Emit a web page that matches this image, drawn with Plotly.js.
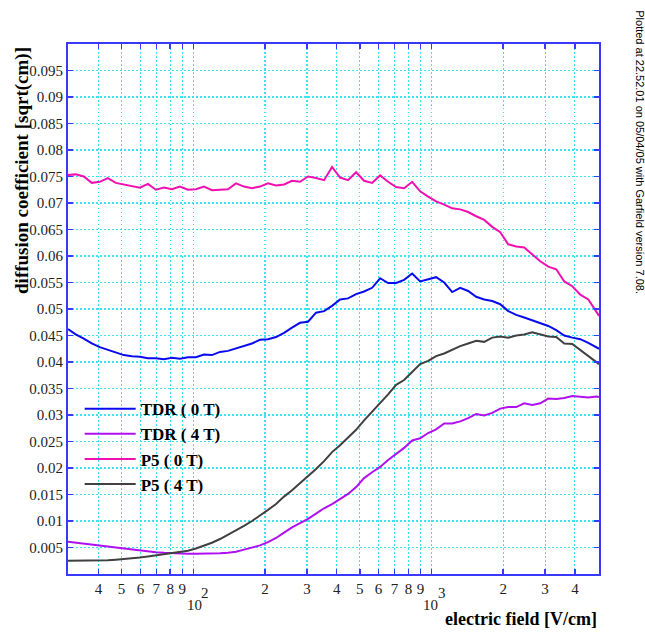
<!DOCTYPE html>
<html>
<head>
<meta charset="utf-8">
<script src="https://cdn.plot.ly/plotly-3.0.1.min.js"></script>
<style>html,body{margin:0;padding:0;background:#fff;}#chart{width:645px;height:632px;}</style>
</head>
<body>
<div id="chart"></div>
<script>
// electric field [V/cm]
var fieldVals = [29.8, 32.1, 34.7, 37.5, 40.5, 43.8, 47.3, 51.1, 55.3, 59.7, 64.5, 69.7, 75.3, 81.4, 87.9, 95.0,
  102.6, 110.9, 119.8, 129.5, 139.9, 151.1, 163.3, 176.4, 190.6, 206.0, 222.6, 240.5, 259.8, 280.7, 303.3, 327.7,
  354.1, 382.6, 413.4, 446.7, 482.6, 521.4, 563.4, 608.7, 657.7, 710.6, 767.8, 829.6, 896.4, 968.5, 1046, 1131,
  1222, 1320, 1426, 1541, 1665, 1799, 1944, 2100, 2269, 2452, 2649, 2862, 3093, 3341, 3610, 3901, 4215, 4554, 4920, 5050];

var tdr0T = [0.0462, 0.0452, 0.0444, 0.0435, 0.0428, 0.0423, 0.0417, 0.0413, 0.0411, 0.0410, 0.0407, 0.0407, 0.0405, 0.0408, 0.0406, 0.0409,
  0.0409, 0.0414, 0.0413, 0.0419, 0.0421, 0.0426, 0.0430, 0.0435, 0.0442, 0.0443, 0.0447, 0.0455, 0.0465, 0.0474, 0.0476, 0.0493,
  0.0496, 0.0506, 0.0518, 0.0520, 0.0528, 0.0533, 0.0540, 0.0558, 0.0549, 0.0549, 0.0555, 0.0567, 0.0552, 0.0556, 0.0560, 0.0550,
  0.0532, 0.0540, 0.0534, 0.0523, 0.0518, 0.0515, 0.0509, 0.0496, 0.0489, 0.0484, 0.0479, 0.0473, 0.0468, 0.0460, 0.0450, 0.0446, 0.0443, 0.0436, 0.0428, 0.0425];

var tdr4T = [0.0061, 0.0059, 0.0057, 0.0055, 0.0053, 0.0052, 0.0050, 0.0048, 0.0046, 0.0044, 0.0043, 0.0041, 0.0040, 0.0039, 0.0038, 0.0038,
  0.0038, 0.0038, 0.0038, 0.0039, 0.0040, 0.0042, 0.0046, 0.0050, 0.0054, 0.0060, 0.0068, 0.0078, 0.0088, 0.0096, 0.0104, 0.0114,
  0.0124, 0.0132, 0.0142, 0.0151, 0.0164, 0.0181, 0.0192, 0.0202, 0.0215, 0.0226, 0.0238, 0.0252, 0.0256, 0.0266, 0.0273, 0.0284,
  0.0284, 0.0288, 0.0294, 0.0302, 0.0299, 0.0304, 0.0312, 0.0315, 0.0315, 0.0322, 0.0319, 0.0322, 0.0331, 0.0330, 0.0332, 0.0336, 0.0335, 0.0333, 0.0335, 0.0334];

var p50T = [0.0753, 0.0754, 0.0750, 0.0738, 0.0740, 0.0747, 0.0738, 0.0735, 0.0731, 0.0729, 0.0736, 0.0725, 0.0729, 0.0726, 0.0731, 0.0725,
  0.0726, 0.0731, 0.0724, 0.0725, 0.0726, 0.0737, 0.0731, 0.0728, 0.0731, 0.0737, 0.0733, 0.0735, 0.0742, 0.0740, 0.0750, 0.0747,
  0.0743, 0.0768, 0.0748, 0.0743, 0.0758, 0.0742, 0.0738, 0.0752, 0.0740, 0.0730, 0.0728, 0.0740, 0.0722, 0.0712, 0.0703, 0.0697,
  0.0690, 0.0688, 0.0683, 0.0675, 0.0668, 0.0655, 0.0645, 0.0622, 0.0618, 0.0616, 0.0603, 0.0590, 0.0580, 0.0575, 0.0552, 0.0543, 0.0527, 0.0518, 0.0495, 0.0487];

var p54T = [0.0025, 0.0025, 0.0025, 0.0025, 0.0026, 0.0026, 0.0027, 0.0028, 0.0029, 0.0031, 0.0033, 0.0035, 0.0037, 0.0039, 0.0041, 0.0044,
  0.0048, 0.0053, 0.0059, 0.0066, 0.0074, 0.0083, 0.0091, 0.0100, 0.0110, 0.0121, 0.0132, 0.0146, 0.0158, 0.0171, 0.0184, 0.0198,
  0.0213, 0.0230, 0.0243, 0.0257, 0.0272, 0.0290, 0.0306, 0.0322, 0.0339, 0.0357, 0.0366, 0.0381, 0.0396, 0.0402, 0.0411, 0.0416,
  0.0423, 0.0430, 0.0435, 0.0440, 0.0438, 0.0446, 0.0448, 0.0446, 0.0450, 0.0452, 0.0456, 0.0452, 0.0448, 0.0447, 0.0435, 0.0434, 0.0423, 0.0412, 0.0401, 0.0396];

var seriesNames = ['TDR ( 0 T)', 'TDR ( 4 T)', 'P5 ( 0 T)', 'P5 ( 4 T)'];
var seriesColors = ['#0a0aee', '#b010f0', '#f010b0', '#404040'];

var xTickVals = [40, 50, 60, 70, 80, 90, 100, 200, 300, 400, 500, 600, 700, 800, 900, 1000, 2000, 3000, 4000];
var xTickText = ['4', '5', '6', '7', '8', '9', '', '2', '3', '4', '5', '6', '7', '8', '9', '', '2', '3', '4'];
var yTickVals = [0.005, 0.01, 0.015, 0.02, 0.025, 0.03, 0.035, 0.04, 0.045, 0.05, 0.055, 0.06, 0.065, 0.07, 0.075, 0.08, 0.085, 0.09, 0.095];
var yTickText = ['0.005', '0.01', '0.015', '0.02', '0.025', '0.03', '0.035', '0.04', '0.045', '0.05', '0.055', '0.06', '0.065', '0.07', '0.075', '0.08', '0.085', '0.09', '0.095'];

var serif = '"Liberation Serif", "Times New Roman", Times, serif';
var ys = [tdr0T, tdr4T, p50T, p54T];
var traces = ys.map(function (yv, i) {
  return {
    x: fieldVals, y: yv, type: 'scatter', mode: 'lines',
    name: seriesNames[i], legendgroup: 'g' + i,
    line: { color: seriesColors[i], width: 2 }
  };
});

var axisBlue = '#3a3aff';
var gridCyan = '#3fe0f0';
var layout = {
  width: 645, height: 632,
  margin: { l: 68, r: 46, t: 44, b: 58 },
  paper_bgcolor: '#ffffff', plot_bgcolor: '#ffffff',
  font: { family: serif, size: 15, color: '#222' },
  showlegend: true,
  legend: {
    x: 0.022, y: 0.345, xanchor: 'left', yanchor: 'top',
    bgcolor: 'rgba(0,0,0,0)', borderwidth: 0,
    font: { family: serif, size: 17, color: '#000', weight: 'bold' },
    itemwidth: 51, tracegroupgap: 5, traceorder: 'normal'
  },
  xaxis: {
    type: 'log', range: [Math.log10(29.8), Math.log10(5050)],
    tickmode: 'array', tickvals: xTickVals, ticktext: xTickText,
    ticks: 'inside', ticklen: 5, tickwidth: 1.5, tickcolor: axisBlue,
    showline: true, linecolor: axisBlue, linewidth: 2, mirror: 'ticks',
    showgrid: true, gridcolor: gridCyan, griddash: '1.5px,2.5px', gridwidth: 1.2,
    zeroline: false,
    tickfont: { family: serif, size: 15, color: '#222' }
  },
  yaxis: {
    range: [0, 0.1],
    tickmode: 'array', tickvals: yTickVals, ticktext: yTickText,
    ticks: 'inside', ticklen: 5, tickwidth: 1.5, tickcolor: axisBlue,
    showline: true, linecolor: axisBlue, linewidth: 2, mirror: 'ticks',
    showgrid: true, gridcolor: gridCyan, griddash: '1.5px,2.5px', gridwidth: 1.2,
    zeroline: false,
    tickfont: { family: serif, size: 15, color: '#222' }
  },
  annotations: [
    { xref: 'x', yref: 'paper', x: 2, y: -0.058, text: '10', showarrow: false, xanchor: 'center', yanchor: 'middle', xshift: 1,
      font: { family: serif, size: 15, color: '#222' } },
    { xref: 'x', yref: 'paper', x: 2, y: -0.036, text: '2', showarrow: false, xanchor: 'center', yanchor: 'middle', xshift: 12,
      font: { family: serif, size: 15, color: '#222' } },
    { xref: 'x', yref: 'paper', x: 3, y: -0.058, text: '10', showarrow: false, xanchor: 'center', yanchor: 'middle', xshift: -1,
      font: { family: serif, size: 15, color: '#222' } },
    { xref: 'x', yref: 'paper', x: 3, y: -0.036, text: '3', showarrow: false, xanchor: 'center', yanchor: 'middle', xshift: 11,
      font: { family: serif, size: 15, color: '#222' } },
    { xref: 'paper', yref: 'paper', x: 1.0, y: -0.085, text: 'electric field [V/cm]', showarrow: false,
      xanchor: 'right', yanchor: 'middle', font: { family: serif, size: 18, color: '#000', weight: 'bold' } },
    { xref: 'paper', yref: 'paper', x: -0.087, y: 0.762, text: 'diffusion coefficient [sqrt(cm)]', showarrow: false,
      textangle: -90, xanchor: 'center', yanchor: 'middle', font: { family: serif, size: 19, color: '#000', weight: 'bold' } },
    { xref: 'paper', yref: 'paper', x: 1.077, y: 0.796, text: 'Plotted at 22.52.01 on 05/04/05 with Garfield version 7.08.', showarrow: false,
      textangle: 90, xanchor: 'center', yanchor: 'middle', font: { family: '"Liberation Sans", Arial, sans-serif', size: 11, color: '#000' } }
  ]
};

Plotly.newPlot('chart', traces, layout, { displayModeBar: false, staticPlot: true });
</script>
</body>
</html>
